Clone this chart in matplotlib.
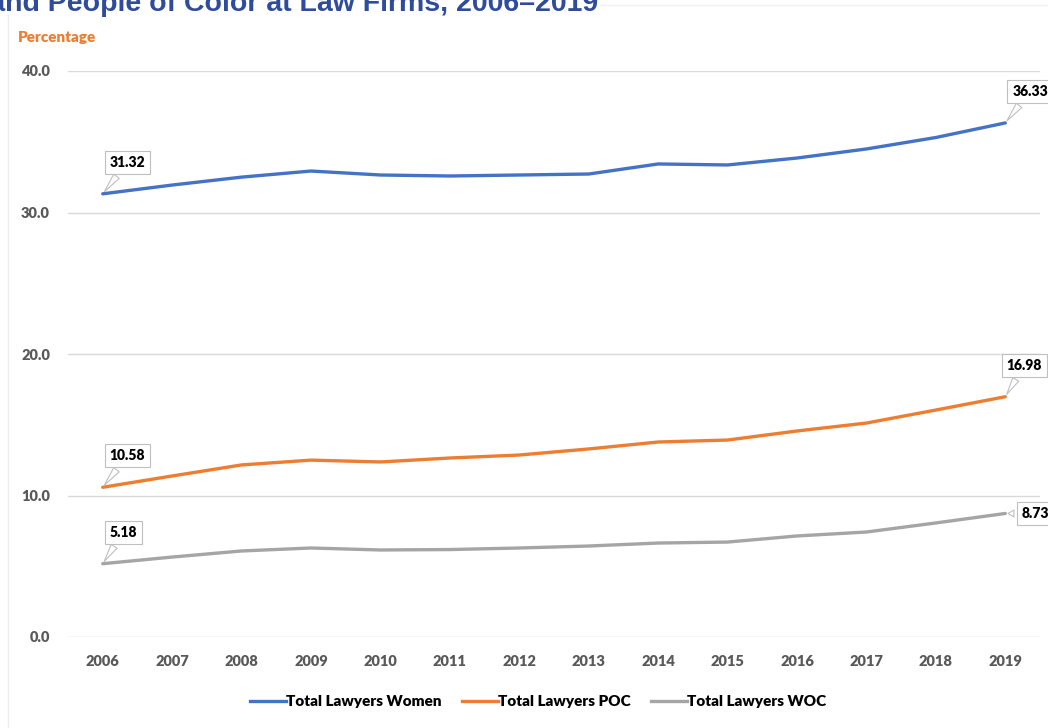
import numpy as np
import matplotlib
matplotlib.use("Agg")
import matplotlib.pyplot as plt
from matplotlib.lines import Line2D

plt.rcParams['font.family'] = ['Lato', 'DejaVu Sans']

years = ['2006', '2007', '2008', '2009', '2010', '2011', '2012',
         '2013', '2014', '2015', '2016', '2017', '2018', '2019']
women = [31.32, 31.94, 32.50, 32.93, 32.65, 32.58, 32.65,
         32.72, 33.43, 33.36, 33.85, 34.49, 35.30, 36.33]
poc = [10.58, 11.38, 12.16, 12.50, 12.37, 12.65, 12.86,
       13.29, 13.78, 13.92, 14.56, 15.12, 16.04, 16.98]
woc = [5.18, 5.65, 6.08, 6.29, 6.15, 6.18, 6.29,
       6.43, 6.64, 6.71, 7.14, 7.42, 8.06, 8.73]
names = ['Total Lawyers Women', 'Total Lawyers POC', 'Total Lawyers WOC']
colors = ['#4472C4', '#ED7D31', '#A5A5A5']

W, H = 1048, 728
fig = plt.figure(figsize=(W / 100, H / 100), dpi=100)
ax = fig.add_axes([68 / W, 1 - 637 / H, (1040 - 68) / W, (637 - 71) / H])

x = np.arange(len(years))
for vals, c in zip([women, poc, woc], colors):
    ax.plot(x, vals, color=c, lw=2.4, solid_capstyle='round', zorder=3)

ax.set_xlim(-0.5, len(years) - 0.5)
ax.set_ylim(0, 40)
ax.set_yticks([0, 10, 20, 30, 40])
ax.set_yticklabels(['0.0', '10.0', '20.0', '30.0', '40.0'])
ax.set_xticks(x)
ax.set_xticklabels(years)
ax.grid(axis='y', color='#D9D9D9', lw=1.0)
ax.set_axisbelow(True)
for s in ax.spines.values():
    s.set_visible(False)
ax.tick_params(length=0, colors='#595959', labelsize=10.5)
ax.tick_params(axis='y', pad=13)
ax.tick_params(axis='x', pad=13)
for lab in ax.get_xticklabels() + ax.get_yticklabels():
    lab.set_fontweight('heavy')

# value callouts at the first and last year
box = dict(boxstyle='square,pad=0.35', fc='white', ec='#BFBFBF', lw=0.8)
arrow = dict(arrowstyle='wedge,tail_width=0.5,shrink_factor=0.5',
             fc='white', ec='#BFBFBF', lw=0.8)
callouts = [
    (0, women[0], (5, 18)), (13, women[13], (5, 18)),
    (0, poc[0], (5, 18)), (13, poc[13], (1, 18)),
    (0, woc[0], (5, 18)), (13, woc[13], (12, 0)),
]
for xi, yv, off in callouts:
    ax.annotate(f'{yv:.2f}', (xi, yv), xytext=off, textcoords='offset points',
                ha='left', va='bottom' if off[1] else 'center',
                fontsize=10, fontweight='heavy', color='black',
                bbox=box, arrowprops=arrow, zorder=5, annotation_clip=False)

# legend
handles = [Line2D([], [], color=c, lw=2.4) for c in colors]
fig.legend(handles, names, loc='center', bbox_to_anchor=(538 / W, 1 - 702 / H),
           ncol=3, frameon=False, handlelength=2.4, handletextpad=0.0,
           columnspacing=1.3, prop=dict(size=11, weight='heavy'))

# heading and axis unit
fig.text(598 / W, 1 - 11 / H, 'Women and People of Color at Law Firms, 2006\u20132019',
         ha='right', va='baseline', fontsize=20.5, fontweight='bold',
         color='#2F4B9B', family=['Liberation Sans', 'DejaVu Sans'])
fig.text(18 / W, 1 - 38 / H, 'Percentage', ha='left', va='center',
         fontsize=11, fontweight='heavy', color='#ED7D31')

# faint chart-area border
fig.add_artist(Line2D([8 / W, 8 / W], [0, 1 - 15 / H], color='#EDEDED', lw=1))
fig.add_artist(Line2D([600 / W, 1], [1 - 5 / H, 1 - 5 / H], color='#F2F2F2', lw=1))

fig.savefig('out.png', dpi=100, facecolor='white')
